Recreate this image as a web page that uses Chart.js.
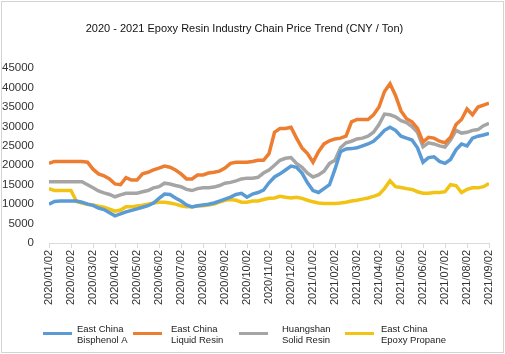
<!DOCTYPE html>
<html>
<head>
<meta charset="utf-8">
<script src="https://cdn.jsdelivr.net/npm/chart.js@4"></script>
<style>
  html, body { margin: 0; padding: 0; background: #fff; }
  #wrap { width: 505px; height: 354px; }
</style>
</head>
<body>
<div id="wrap"><canvas id="lineChart" width="505" height="354"></canvas></div>
<script>
const monthLabels = ["2020/01/02", "2020/02/02", "2020/03/02", "2020/04/02", "2020/05/02", "2020/06/02", "2020/07/02",
    "2020/08/02", "2020/09/02", "2020/10/02", "2020/11/02", "2020/12/02", "2021/01/02", "2021/02/02",
    "2021/03/02", "2021/04/02", "2021/05/02", "2021/06/02", "2021/07/02", "2021/08/02", "2021/09/02"];

// values read every quarter month, from 2020/01/02 to 2021/09/02
const stepPerPoint = 0.25;

const bisphenolA = [10000, 10700, 10800, 10800, 10800, 10800, 10500, 10000, 9700, 9000, 8600, 7800, 7000, 7500, 8000, 8400,
    8800, 9200, 9600, 10300, 11500, 12600, 12500, 11600, 10800, 9800, 9300, 9600, 9800, 10000, 10300, 10800,
    11300, 11800, 12500, 12800, 11800, 12600, 13000, 13600, 15500, 17000, 17800, 18800, 19800, 19500, 18000, 15500,
    13500, 13000, 14000, 15000, 19000, 23500, 24200, 24300, 24500, 25000, 25500, 26200, 27500, 29000, 29800, 29000,
    27500, 27000, 26500, 24500, 20800, 22000, 22200, 21000, 20500, 21500, 24000, 25500, 25000, 27000, 27500, 27800, 28200];

const liquidResin = [20500, 21000, 21000, 21000, 21000, 21000, 21000, 20800, 19000, 17800, 17300, 16500, 15200, 15000, 16800, 16200,
    16200, 17800, 18200, 18800, 19300, 19800, 19500, 18800, 17800, 16500, 16500, 17500, 17500, 18000, 18200, 18500,
    19300, 20500, 20800, 20800, 20800, 21000, 21300, 21300, 23000, 28500, 29500, 29500, 29800, 27000, 24500, 23000,
    20800, 23500, 25500, 26300, 26800, 27000, 27500, 31200, 31800, 31800, 31800, 33000, 35000, 39000, 41000, 38000,
    34000, 32000, 31200, 29500, 26000, 27200, 27000, 26200, 25800, 27200, 30500, 31800, 34500, 33000, 35000, 35500, 36000];

const solidResin = [15800, 15800, 15800, 15800, 15800, 15800, 15800, 15000, 14200, 13400, 12900, 12500, 11900, 12400, 12800, 12800,
    12800, 13200, 13500, 14200, 14500, 15400, 15200, 14800, 14500, 13800, 13500, 14000, 14200, 14200, 14400, 14800,
    15400, 15600, 16000, 16500, 16700, 16700, 16900, 18000, 18800, 20000, 21300, 21800, 22000, 20500, 19500, 18000,
    17000, 17500, 18500, 20500, 21300, 24500, 25800, 26200, 26800, 27000, 27500, 28500, 30500, 33200, 33000, 32500,
    31500, 31000, 30000, 28500, 24800, 25800, 25500, 25000, 24700, 26500, 29000, 28300, 28500, 29000, 29200, 30200, 30800];

const epoxyPropane = [14000, 13500, 13500, 13500, 13500, 10700, 10300, 10000, 9800, 9500, 9200, 8700, 8200, 8500, 9300, 9300,
    9500, 9700, 10000, 10300, 10500, 10500, 10300, 10000, 9600, 9300, 9300, 9500, 9600, 9800, 10000, 10500,
    11000, 11200, 11000, 10500, 10500, 10800, 10800, 11200, 11500, 11600, 12000, 11800, 11600, 11800, 11500, 11000,
    10600, 10300, 10200, 10200, 10200, 10300, 10500, 10800, 11000, 11300, 11600, 12000, 12500, 14000, 16000, 14500,
    14300, 14000, 13800, 13200, 12800, 12800, 13000, 13000, 13200, 15000, 14800, 13000, 13800, 14200, 14200, 14500, 15300];

const seriesNames = [["East China", "Bisphenol A"], ["East China", "Liquid Resin"], ["Huangshan", "Solid Resin"], ["East China", "Epoxy Propane"]];
const seriesValues = [bisphenolA, liquidResin, solidResin, epoxyPropane];
const seriesColors = ["#5b9bd5", "#ed7d31", "#a5a5a5", "#f2c314"];

const FONT = "'Liberation Sans', Arial, sans-serif";

const toPoints = (values) => values.map((v, i) => ({ x: i * stepPerPoint, y: v }));

// legend with two-line labels, drawn under the axis
const legendPlugin = {
    id: "twoLineLegend",
    afterDraw(chart) {
        const ctx = chart.ctx;
        const lineX = [43, 133, 239, 345];
        const textX = [77, 171, 282, 381];
        ctx.save();
        chart.data.datasets.forEach((ds, i) => {
            ctx.strokeStyle = ds.borderColor;
            ctx.lineWidth = 3;
            ctx.beginPath();
            ctx.moveTo(lineX[i], 333.5);
            ctx.lineTo(lineX[i] + 29, 333.5);
            ctx.stroke();
            ctx.fillStyle = "#222";
            ctx.font = "9.5px " + FONT;
            ctx.textBaseline = "middle";
            ctx.fillText(ds.label[0], textX[i], 329);
            ctx.fillText(ds.label[1], textX[i], 340);
        });
        ctx.restore();
    },
};

const framePlugin = {
    id: "frame",
    beforeDraw(chart) {
        const ctx = chart.ctx;
        ctx.save();
        ctx.fillStyle = "#fff";
        ctx.fillRect(0, 0, chart.width, chart.height);
        ctx.strokeStyle = "#d4d4d4";
        ctx.lineWidth = 1;
        ctx.strokeRect(1.5, 1.5, chart.width - 3, chart.height - 3);
        ctx.restore();
    },
};

new Chart(document.getElementById("lineChart"), {
    type: "line",
    data: {
        datasets: seriesValues.map((vals, i) => ({
            label: seriesNames[i],
            data: toPoints(vals),
            borderColor: seriesColors[i],
            backgroundColor: seriesColors[i],
            borderWidth: 3.5,
            pointRadius: 0,
            tension: 0,
        })),
    },
    options: {
        responsive: false,
        animation: false,
        layout: { padding: { left: 0, right: 16, top: 0, bottom: 41 } },
        plugins: {
            legend: { display: false },
            tooltip: { enabled: false },
            title: {
                display: true,
                text: "2020 - 2021 Epoxy Resin Industry Chain Price Trend (CNY / Ton)",
                color: "#111",
                font: { family: FONT, size: 11, weight: "normal" },
                padding: { top: 22, bottom: 33 },
            },
        },
        scales: {
            x: {
                type: "linear",
                min: 0,
                max: monthLabels.length - 1,
                afterFit: (scale) => { scale.height = 70; },
                border: { display: true, color: "#d9d9d9" },
                grid: { drawOnChartArea: false, drawTicks: true, tickLength: 5, color: "#d9d9d9" },
                ticks: {
                    stepSize: 1,
                    autoSkip: false,
                    maxRotation: 90,
                    minRotation: 90,
                    padding: 2,
                    color: "#333",
                    font: { family: FONT, size: 11 },
                    callback: (value) => monthLabels[value],
                },
            },
            y: {
                min: 0,
                max: 45000,
                afterFit: (scale) => { scale.width = 49; },
                border: { display: false },
                grid: { display: false },
                ticks: {
                    stepSize: 5000,
                    padding: 7,
                    color: "#333",
                    font: { family: FONT, size: 11.5 },
                    callback: (value) => String(value),
                },
            },
        },
    },
    plugins: [framePlugin, legendPlugin],
});
</script>
</body>
</html>
